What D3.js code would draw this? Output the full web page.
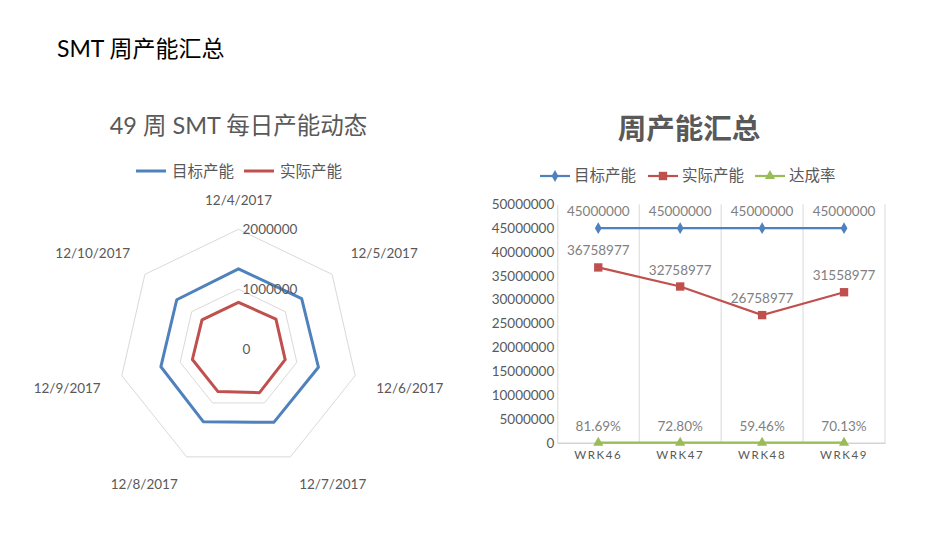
<!DOCTYPE html>
<html>
<head>
<meta charset="utf-8">
<script src="https://cdn.jsdelivr.net/npm/d3@7"></script>
<style>
  body { margin: 0; background: #fff; }
  svg { font-family: Lato, 'Noto Sans CJK SC', sans-serif; }
</style>
</head>
<body>
<svg width="950" height="535"></svg>
<script>
// radar data (daily)
const days = ["12/4/2017", "12/5/2017", "12/6/2017", "12/7/2017", "12/8/2017", "12/9/2017", "12/10/2017"];
const dailyTarget = [1340000, 1350000, 1370000, 1360000, 1350000, 1330000, 1320000];
const dailyActual = [780000, 800000, 800000, 810000, 790000, 790000, 780000];
const radarTicks = [0, 1000000, 2000000];

// weekly data
const weeks = ["WRK46", "WRK47", "WRK48", "WRK49"];
const weekTarget = [45000000, 45000000, 45000000, 45000000];
const weekActual = [36758977, 32758977, 26758977, 31558977];
const weekRate = [0.8169, 0.7280, 0.5946, 0.7013];
const weekTicks = [0, 5000000, 10000000, 15000000, 20000000, 25000000, 30000000, 35000000, 40000000, 45000000, 50000000];

const blue = "#4f81bd", red = "#c0504d", green = "#9bbb59";
const gridColor = "#d9d9d9";
const textColor = "#595959";

const svg = d3.select('svg');

svg.append('text')
  .attr('x', 57).attr('y', 57)
  .style('font-size', '23px')
  .attr('fill', '#000')
  .text("SMT 周产能汇总");

// ---------- radar ----------
const cx = 238.5, cy = 349, R = 119.7;
const rScale = d3.scaleLinear().domain([0, 2000000]).range([0, R]);
const angle = i => i * 2 * Math.PI / days.length;
const pt = (i, r) => [cx + r * Math.sin(angle(i)), cy - r * Math.cos(angle(i))];

svg.append('text')
  .attr('x', cx).attr('y', 134)
  .attr('text-anchor', 'middle')
  .attr('fill', textColor)
  .style('font-size', '23.5px')
  .text("49 周 SMT 每日产能动态");

const radarLegend = svg.append('g');
[["目标产能", blue, 136], ["实际产能", red, 244]].forEach(([name, color, lx]) => {
  radarLegend.append('line')
    .attr('x1', lx).attr('x2', lx + 30).attr('y1', 171).attr('y2', 171)
    .attr('stroke', color).attr('stroke-width', 3);
  radarLegend.append('text')
    .attr('x', lx + 36).attr('y', 176.5)
    .attr('fill', textColor)
    .style('font-size', '15.5px')
    .text(name);
});

const ring = d3.line();
radarTicks.slice(1).forEach(t => {
  svg.append('path')
    .attr('d', ring(days.map((d, i) => pt(i, rScale(t)))) + 'Z')
    .attr('fill', 'none')
    .attr('stroke', gridColor)
    .attr('stroke-width', 1);
});

[[dailyTarget, blue], [dailyActual, red]].forEach(([vals, color]) => {
  svg.append('path')
    .attr('d', ring(vals.map((v, i) => pt(i, rScale(v)))) + 'Z')
    .attr('fill', 'none')
    .attr('stroke', color)
    .attr('stroke-width', 3)
    .attr('stroke-linejoin', 'round');
});

radarTicks.forEach(t => {
  svg.append('text')
    .attr('x', cx + 4).attr('y', cy - rScale(t) + 5)
    .attr('fill', textColor)
    .style('font-size', '13.5px')
    .text(t);
});

// label nudges so the category names sit the way Excel puts them
const labelShiftX = [0, 30, 27, 30, -30, -27, -30];
const labelShiftY = [4, 1, 11, 7, 7, 11, 1];
days.forEach((d, i) => {
  const [px, py] = pt(i, 148);
  svg.append('text')
    .attr('x', px + labelShiftX[i]).attr('y', py + labelShiftY[i])
    .attr('text-anchor', 'middle')
    .attr('fill', textColor)
    .style('font-size', '13.5px')
    .text(d);
});

// ---------- weekly line chart ----------
const plotLeft = 557.3, plotRight = 885, plotTop = 204.3, plotBottom = 442.7;
const x = d3.scaleBand().domain(weeks).range([plotLeft, plotRight]);
const y = d3.scaleLinear().domain([0, 50000000]).range([plotBottom, plotTop]);
const xc = d => x(d) + x.bandwidth() / 2;

svg.append('text')
  .attr('x', 689).attr('y', 139)
  .attr('text-anchor', 'middle')
  .attr('fill', textColor)
  .style('font-size', '28.5px')
  .style('font-weight', 'bold')
  .text("周产能汇总");

// vertical gridlines at category borders
svg.append('g')
  .selectAll('line')
  .data(weeks.slice(1).map(w => x(w)).concat([plotRight]))
  .enter()
  .append('line')
  .attr('x1', d => d).attr('x2', d => d)
  .attr('y1', plotTop).attr('y2', plotBottom)
  .attr('stroke', gridColor);

const yAxis = svg.append('g')
  .attr('transform', 'translate(' + plotLeft + ',0)')
  .call(d3.axisLeft(y).tickValues(weekTicks).tickSize(0).tickPadding(3).tickFormat(d3.format('d')));
yAxis.attr('font-family', null);
yAxis.select('.domain').attr('stroke', gridColor);
yAxis.selectAll('text').attr('fill', textColor).style('font-size', '13.5px');

const xAxis = svg.append('g')
  .attr('transform', 'translate(0,' + plotBottom + ')')
  .call(d3.axisBottom(x).tickSize(0).tickPadding(8));
xAxis.attr('font-family', null);
xAxis.select('.domain').attr('stroke', '#bfbfbf');
xAxis.selectAll('text').attr('fill', textColor).style('font-size', '11.5px')
  .style('letter-spacing', '1.6px');

const line = d3.line().x((d, i) => xc(weeks[i])).y(d => y(d));

const series = [
  { name: "目标产能", vals: weekTarget, color: blue, marker: d3.symbolDiamond, size: 40, labels: weekTarget.map(String) },
  { name: "实际产能", vals: weekActual, color: red, marker: d3.symbolSquare, size: 70, labels: weekActual.map(String) },
  { name: "达成率", vals: weekRate, color: green, marker: d3.symbolTriangle, size: 45, labels: weekRate.map(d3.format('.2%')) }
];

series.forEach(s => {
  svg.append('path')
    .attr('d', line(s.vals))
    .attr('fill', 'none')
    .attr('stroke', s.color)
    .attr('stroke-width', 2.2);
  svg.append('g').selectAll('path')
    .data(s.vals)
    .enter()
    .append('path')
    .attr('d', d3.symbol().type(s.marker).size(s.size))
    .attr('transform', (d, i) => 'translate(' + xc(weeks[i]) + ',' + y(d) + ')')
    .attr('fill', s.color);
  svg.append('g').selectAll('text')
    .data(s.vals)
    .enter()
    .append('text')
    .attr('x', (d, i) => xc(weeks[i]))
    .attr('y', d => y(d) - 12)
    .attr('text-anchor', 'middle')
    .attr('fill', '#7f7f7f')
    .style('font-size', '13.5px')
    .text((d, i) => s.labels[i]);
});

// legend for line chart
const legendPos = [540, 648, 755];
series.forEach((s, i) => {
  const lx = legendPos[i];
  svg.append('line')
    .attr('x1', lx).attr('x2', lx + 30).attr('y1', 176).attr('y2', 176)
    .attr('stroke', s.color).attr('stroke-width', 2.2);
  svg.append('path')
    .attr('d', d3.symbol().type(s.marker).size(s.size))
    .attr('transform', 'translate(' + (lx + 15) + ',176)')
    .attr('fill', s.color);
  svg.append('text')
    .attr('x', lx + 34).attr('y', 181)
    .attr('fill', textColor)
    .style('font-size', '15.5px')
    .text(s.name);
});
</script>
</body>
</html>
